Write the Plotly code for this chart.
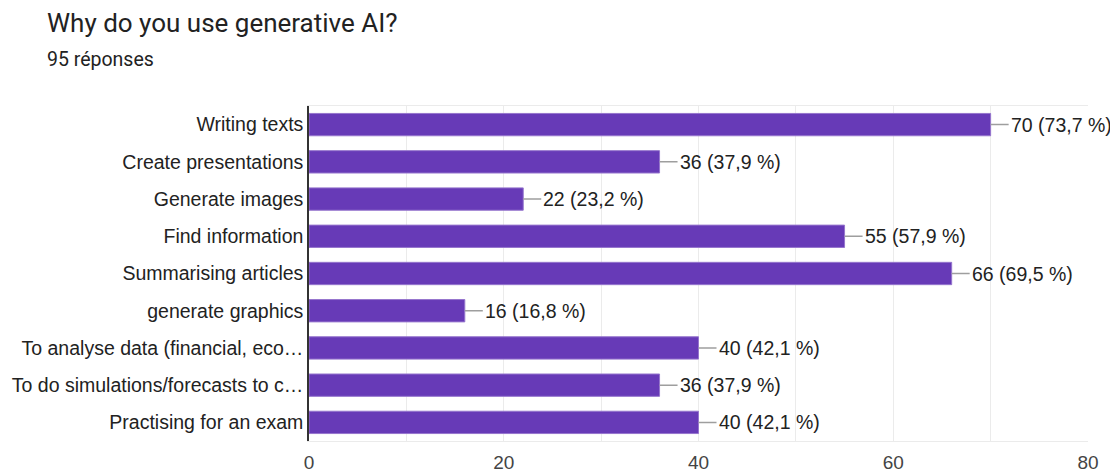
import plotly.graph_objects as go

categories = [
    "Writing texts",
    "Create presentations",
    "Generate images",
    "Find information",
    "Summarising articles",
    "generate graphics",
    "To analyse data (financial, eco…",
    "To do simulations/forecasts to c…",
    "Practising for an exam",
]
counts = [70, 36, 22, 55, 66, 16, 40, 36, 40]
percents = ["73,7", "37,9", "23,2", "57,9", "69,5", "16,8", "42,1", "37,9", "42,1"]
x_ticks = [0, 20, 40, 60, 80]
total_responses = 95

PURPLE = "#673ab7"
TEXT = "#222222"
GRID = "#ebebeb"
ARIAL = "Liberation Sans, Arial, sans-serif"

# page body has an 8px default margin; compensate
OFF = 8
W, H = 1118 - OFF, 472 - OFF

fig = go.Figure()
fig.add_trace(go.Bar(
    x=counts,
    y=categories,
    orientation="h",
    marker=dict(color=PURPLE, line=dict(color="#9575cd", width=1)),
    width=0.6,
    hoverinfo="x+y",
))

for cat, c, p in zip(categories, counts, percents):
    fig.add_annotation(
        x=c, y=cat, xref="x", yref="y",
        text=f"{c} ({p} %)",
        showarrow=True, arrowhead=0, arrowwidth=1.5, arrowcolor="#9e9e9e",
        ax=18, ay=0, xanchor="left", standoff=0, startstandoff=0,
        font=dict(family=ARIAL, size=19.5, color=TEXT),
    )

fig.add_annotation(
    text=f"{total_responses} réponses",
    xref="paper", yref="paper", x=(45 - 309) / 779, y=1 + (106 - 59) / 335,
    xanchor="left", yanchor="middle", showarrow=False,
    font=dict(family="Roboto", size=19.5, color=TEXT),
)

fig.update_layout(
    template="none",
    width=W, height=H,
    margin=dict(l=309 - OFF, r=30, t=106 - OFF, b=31),
    paper_bgcolor="white", plot_bgcolor="white",
    title=dict(
        text="Why do you use generative AI?",
        x=(47 - OFF) / W, xref="container", xanchor="left",
        y=1 - (23 - OFF) / H, yref="container", yanchor="middle",
        font=dict(family="Roboto", size=26, color=TEXT),
    ),
    font=dict(family=ARIAL, color=TEXT),
    showlegend=False,
    bargap=0.4,
)

fig.update_xaxes(
    automargin=False,
    range=[0, 80],
    tickvals=x_ticks,
    ticktext=[str(v) for v in x_ticks],
    tickfont=dict(family=ARIAL, size=19, color="#444444"),
    showgrid=True, gridcolor=GRID, gridwidth=1,
    minor=dict(dtick=10, showgrid=True, gridcolor=GRID, gridwidth=1),
    showline=True, linecolor=GRID, mirror=True,
    ticks="", zeroline=False,
    ticklabelstandoff=4,
)
fig.update_yaxes(
    automargin=False,
    autorange="reversed",
    tickfont=dict(family=ARIAL, size=19.5, color=TEXT),
    showline=True, linecolor="#333333", linewidth=1.5,
    ticks="", showgrid=False,
    ticklabelstandoff=0,
)

fig.write_html("out.html")
